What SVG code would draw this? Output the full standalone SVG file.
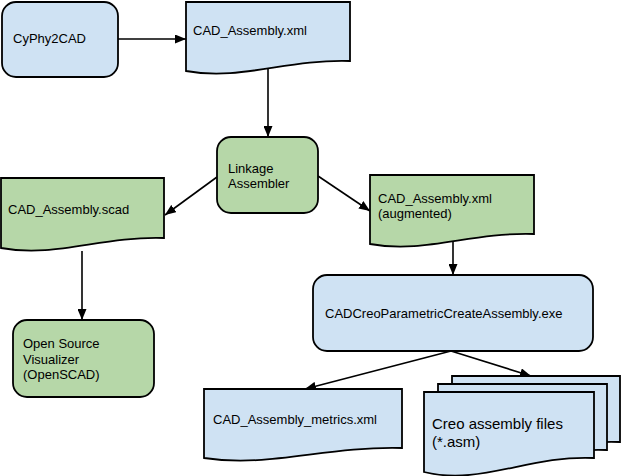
<svg xmlns="http://www.w3.org/2000/svg" width="622" height="476" viewBox="0 0 622 476">
<style>
.blue{fill:#cfe2f3;stroke:#000;stroke-width:1.8}
.green{fill:#b6d7a8;stroke:#000;stroke-width:1.8}
.t{font-family:"Liberation Sans",Arial,sans-serif;font-size:13px;fill:#000}
.big{font-size:15px}
.c{fill:none;stroke:#000;stroke-width:1.6;marker-end:url(#ah)}
</style>
<defs>
<marker id="ah" markerUnits="userSpaceOnUse" markerWidth="11" markerHeight="9" refX="11" refY="4.5" orient="auto">
<path d="M0,0 L11,4.5 L0,9 Z" fill="#000"/>
</marker>
</defs>
<rect width="622" height="476" fill="#fff"/>
<g id="connectors">
<line class="c" x1="118" y1="39" x2="186" y2="39"/>
<line class="c" x1="268" y1="69" x2="268" y2="137"/>
<line class="c" x1="217" y1="177" x2="165" y2="215"/>
<line class="c" x1="318" y1="176" x2="370" y2="211"/>
<line class="c" x1="82" y1="251" x2="82" y2="320"/>
<line class="c" x1="453" y1="242" x2="453" y2="275"/>
<line class="c" x1="451" y1="351" x2="305" y2="389"/>
<line class="c" x1="451" y1="351" x2="531" y2="376"/>
</g>
<g id="cyphy2cad">
<rect class="blue" x="2" y="2" width="116" height="75" rx="14"/>
<text class="t" x="13" y="43">CyPhy2CAD</text>
</g>
<g id="cad-assembly-xml">
<path class="blue" d="M186,2 H350 V61 C286,59 241,81 186,71 Z"/>
<text class="t" x="193" y="35">CAD_Assembly.xml</text>
</g>
<g id="linkage-assembler">
<rect class="green" x="217" y="137" width="101" height="76" rx="14"/>
<text class="t" x="228" y="173">Linkage</text>
<text class="t" x="228" y="188">Assembler</text>
</g>
<g id="cad-assembly-scad">
<path class="green" d="M1,178 H164 V238 C101,236 56,258 1,248 Z"/>
<text class="t" x="8" y="214">CAD_Assembly.scad</text>
</g>
<g id="cad-assembly-augmented">
<path class="green" d="M370,175 H534 V234 C470,232 425,254 370,244 Z"/>
<text class="t" x="378" y="203">CAD_Assembly.xml</text>
<text class="t" x="378" y="218">(augmented)</text>
</g>
<g id="openscad">
<rect class="green" x="13" y="320" width="141" height="77" rx="14"/>
<text class="t" x="23" y="348">Open Source</text>
<text class="t" x="23" y="364">Visualizer</text>
<text class="t" x="23" y="379">(OpenSCAD)</text>
</g>
<g id="cadcreo">
<rect class="blue" x="313" y="275" width="280" height="76" rx="14"/>
<text class="t" x="325" y="318">CADCreoParametricCreateAssembly.exe</text>
</g>
<g id="metrics">
<path class="blue" d="M204,389 H402 V448 C325,446 270,468 204,458 Z"/>
<text class="t" x="213" y="424">CAD_Assembly_metrics.xml</text>
</g>
<g id="creo-files">
<path class="blue" d="M452,376 H620 V442 C554,439 508,470 452,456 Z"/>
<path class="blue" d="M438,384 H607 V450 C541,447 495,478 438,464 Z"/>
<path class="blue" d="M424,392 H594 V458 C528,455 481,486 424,472 Z"/>
<text class="t big" x="432" y="429">Creo assembly files</text>
<text class="t big" x="432" y="447">(*.asm)</text>
</g>
</svg>
